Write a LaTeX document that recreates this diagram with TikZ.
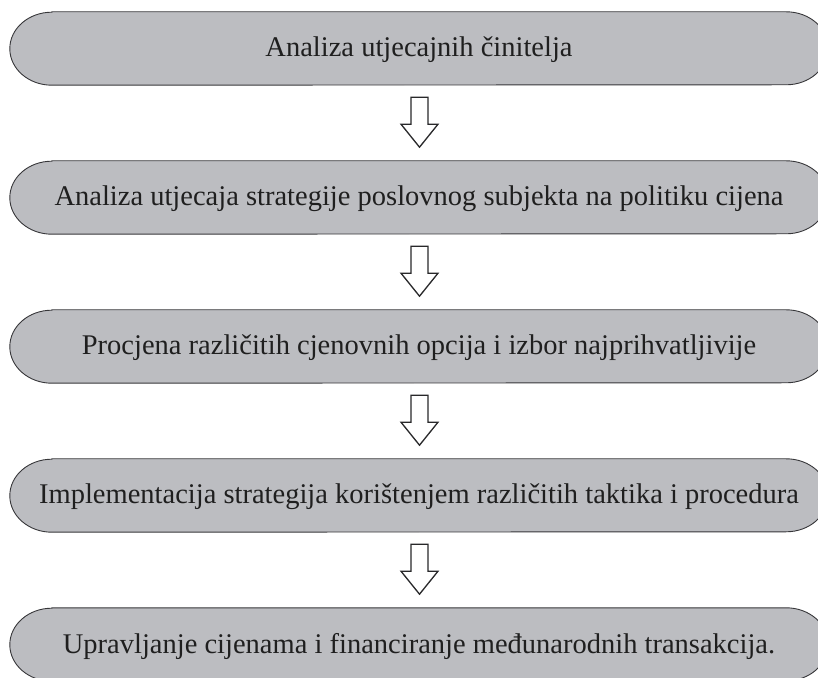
\documentclass[tikz,border=0pt]{standalone}
\usepackage{fontspec}
\setmainfont{Liberation Serif}
\usetikzlibrary{calc,backgrounds}
\definecolor{boxfill}{RGB}{188,189,193}
\definecolor{boxline}{RGB}{55,55,58}
\definecolor{arrline}{RGB}{40,40,42}
\tikzset{
  stepbox/.style={rectangle, draw=none, minimum width=818pt, minimum height=73pt,
    inner sep=0pt, text height=17pt, text depth=0pt,
    font=\fontsize{28.5}{34}\selectfont, text=black!88},
  boxshape/.style={fill=boxfill, draw=boxline, line width=0.9pt},
  blockarrow/.style={fill=white, draw=arrline, line width=1.3pt, line join=miter},
}
\newcommand{\pillshape}[1]{%
  \path[boxshape] ([xshift=42pt]#1.north west) -- ([xshift=-42pt]#1.north east)
    arc[start angle=90, end angle=-90, x radius=42pt, y radius=36.5pt]
    -- ([xshift=42pt]#1.south west)
    arc[start angle=270, end angle=90, x radius=42pt, y radius=36.5pt] -- cycle;}
\newcommand{\downarrowshape}[1]{%
  \path[blockarrow] ($(#1)+(-8.5pt,0)$) -- ($(#1)+(8.5pt,0)$) -- ($(#1)+(8.5pt,-27pt)$)
    -- ($(#1)+(18.5pt,-27pt)$) -- ($(#1)+(0,-50pt)$) -- ($(#1)+(-18.5pt,-27pt)$)
    -- ($(#1)+(-8.5pt,-27pt)$) -- cycle;}
\begin{document}
\begin{tikzpicture}[x=1pt,y=1pt]
\useasboundingbox (0,0) rectangle (818,677);
\node[stepbox] (b1) at (419,628.5) {Analiza utjecajnih činitelja};
\node[stepbox] (b2) at (419,479.5) {Analiza utjecaja strategije poslovnog subjekta na politiku cijena};
\node[stepbox] (b3) at (419,330.5) {Procjena različitih cjenovnih opcija i izbor najprihvatljivije};
\node[stepbox] (b4) at (419,181.5) {Implementacija strategija korištenjem različitih taktika i procedura};
\node[stepbox] (b5) at (419,32.5) {Upravljanje cijenama i financiranje međunarodnih transakcija.};
\begin{scope}[on background layer]
\foreach \b in {b1,b2,b3,b4,b5} {\pillshape{\b}}
\end{scope}
\foreach \b in {b1,b2,b3,b4} {
  \coordinate (\b-arrtop) at ($(\b.south)+(0.5pt,-12pt)$);
  \downarrowshape{\b-arrtop}
}
\end{tikzpicture}
\end{document}
